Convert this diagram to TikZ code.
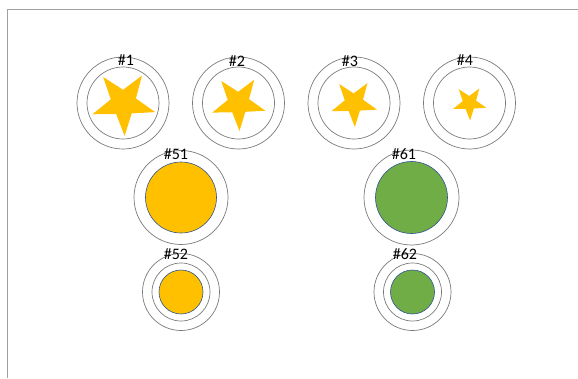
\documentclass[tikz,border=0pt]{standalone}
\usepackage{fontspec}
\setmainfont{Carlito}
\usetikzlibrary{shapes.geometric}
\definecolor{goldfill}{HTML}{FFC000}
\definecolor{greenfill}{HTML}{70AD47}
\definecolor{edgeblue}{HTML}{2F528F}
\definecolor{ringgray}{HTML}{7A7A7A}
\definecolor{framegray}{HTML}{A0A0A0}
\begin{document}
\begin{tikzpicture}[x=1pt, y=-1pt,
    ring/.style={draw=ringgray, circle, line width=0.7pt, inner sep=0pt},
    disc/.style={draw=edgeblue, circle, line width=0.6pt, inner sep=0pt},
    goldstar/.style={star, star points=5, star point ratio=2.5, shape border rotate=182,
        fill=goldfill, draw=none, inner sep=0pt},
    lab/.style={font=\fontsize{16}{16}\selectfont, inner sep=0pt}]
        \useasboundingbox (0,0) rectangle (578,378);
        \draw[framegray, line width=1.5pt] (7.5,378) -- (7.5,9.5) -- (578,9.5);

        % Stars
        \begin{scope}
            \node[ring, minimum size=92pt] (o1) at (123, 103) {};
            \node[ring, minimum size=72pt] (i1) at (123, 103) {};
            \node[goldstar, minimum size=66pt] (s1) at (123.5, 103) {};
            \node[lab] (l1) at (126, 60) {\#1};

            \node[ring, minimum size=92pt] (o2) at (238.5, 103) {};
            \node[ring, minimum size=72pt] (i2) at (238.5, 103) {};
            \node[goldstar, minimum size=56pt] (s2) at (238.5, 103) {};
            \node[lab] (l2) at (237, 61) {\#2};

            \node[ring, minimum size=92pt] (o3) at (354, 103) {};
            \node[ring, minimum size=72pt] (i3) at (354, 103) {};
            \node[goldstar, minimum size=48pt] (s3) at (354, 103) {};
            \node[lab] (l3) at (350, 61) {\#3};

            \node[ring, minimum size=92pt] (o4) at (469.5, 103) {};
            \node[ring, minimum size=72pt] (i4) at (469.5, 103) {};
            \node[goldstar, minimum size=35pt] (s4) at (469.5, 103) {};
            \node[lab] (l4) at (465, 60) {\#4};
        \end{scope}

        % Large discs
        \begin{scope}
            \node[ring, minimum size=94pt] (o51) at (181, 197.5) {};
            \node[disc, fill=goldfill, minimum size=71pt] (d51) at (181, 197.5) {};
            \node[lab] (l51) at (176, 154) {\#51};

            \node[ring, minimum size=95pt] (o61) at (411.5, 197.5) {};
            \node[disc, fill=greenfill, minimum size=72pt] (d61) at (411.5, 197.5) {};
            \node[lab] (l61) at (404, 154) {\#61};
        \end{scope}

        % Small discs
        \begin{scope}
            \node[ring, minimum size=77pt] (o52) at (181, 292) {};
            \node[ring, minimum size=58pt] (i52) at (181, 292) {};
            \node[disc, fill=goldfill, minimum size=44pt] (d52) at (181, 292) {};
            \node[lab] (l52) at (176, 254) {\#52};

            \node[ring, minimum size=77pt] (o62) at (412.5, 292) {};
            \node[ring, minimum size=58pt] (i62) at (412.5, 292) {};
            \node[disc, fill=greenfill, minimum size=44pt] (d62) at (412.5, 292) {};
            \node[lab] (l62) at (405, 254) {\#62};
        \end{scope}
    \end{tikzpicture}
\end{document}
